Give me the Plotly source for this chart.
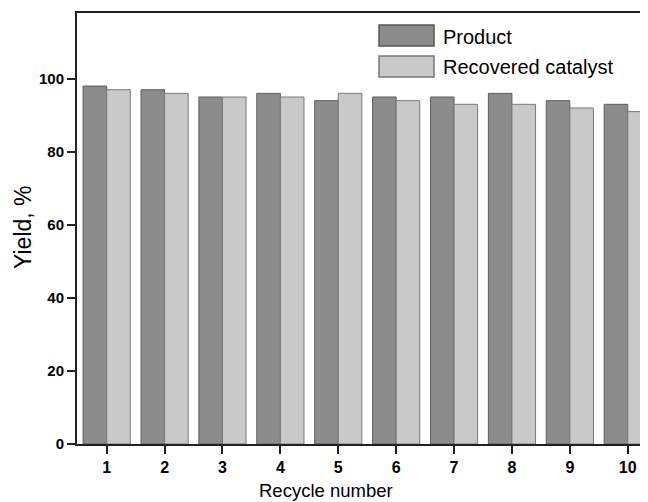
import plotly.graph_objects as go

recycle = [1, 2, 3, 4, 5, 6, 7, 8, 9, 10]
product = [98, 97, 95, 96, 94, 95, 95, 96, 94, 93]
recovered = [97, 96, 95, 95, 96, 94, 93, 93, 92, 91]
series_names = ["Product", "Recovered catalyst"]
y_ticks = [0, 20, 40, 60, 80, 100]

OFF = 8  # page body margin
W, H = 640, 494
L, R, T = 77 - OFF, 0, 13 - OFF
B = H - (444 - OFF)
pw, ph = W - L - R, H - T - B

def px_x(px):
    return (px - OFF - L) / pw

def px_y(py):
    return (H - B - (py - OFF)) / ph

FONT = "Liberation Sans, Arial, sans-serif"
c_prod = "#8c8c8c"
c_rec = "#c9c9c9"

fig = go.Figure()
fig.add_trace(go.Bar(x=recycle, y=product, name=series_names[0],
                     marker=dict(color=c_prod, line=dict(color="#5e5e5e", width=1))))
fig.add_trace(go.Bar(x=recycle, y=recovered, name=series_names[1],
                     marker=dict(color=c_rec, line=dict(color="#7a7a7a", width=1))))

fig.update_layout(
    width=W, height=H,
    margin=dict(l=L, r=R, t=T, b=B, pad=0),
    paper_bgcolor="white", plot_bgcolor="white",
    barmode="group", bargap=0.185, bargroupgap=0,
    showlegend=False,
    font=dict(family=FONT, color="black"),
)
fig.update_xaxes(
    range=[0.487, 10.35], tickmode="array", tickvals=recycle,
    ticktext=[f"<b>{v}</b>" for v in recycle],
    ticks="outside", ticklen=8, tickwidth=2, tickcolor="#222",
    showline=True, linecolor="#222", linewidth=2, mirror=True,
    showgrid=False, zeroline=False,
    tickfont=dict(size=16, family=FONT),
)
fig.update_yaxes(
    range=[0, 118], tickmode="array", tickvals=y_ticks,
    ticktext=[f"<b>{v}</b>" for v in y_ticks],
    ticks="outside", ticklen=8, tickwidth=2, tickcolor="#222",
    showline=True, linecolor="#222", linewidth=2,
    showgrid=False, zeroline=False,
    tickfont=dict(size=15, family=FONT),
)

# axis titles
fig.add_annotation(text="Recycle number", xref="paper", yref="paper",
                   x=px_x(326), y=px_y(490), xanchor="center", yanchor="middle",
                   showarrow=False, font=dict(size=18.5, family=FONT))
fig.add_annotation(text="Yield, %", xref="paper", yref="paper",
                   x=px_x(23), y=px_y(227), xanchor="center", yanchor="middle",
                   textangle=-90, showarrow=False, font=dict(size=23, family=FONT))

# legend
boxes = [(25, 46, c_prod, "#555555", 37.5), (56, 77, c_rec, "#777777", 67)]
for (y0, y1, fc, lc, ty), name in zip(boxes, series_names):
    fig.add_shape(type="rect", xref="paper", yref="paper",
                  x0=px_x(379), x1=px_x(434), y0=px_y(y1), y1=px_y(y0),
                  fillcolor=fc, line=dict(color=lc, width=1.5))
    fig.add_annotation(text=name, xref="paper", yref="paper",
                       x=px_x(441), y=px_y(ty), xanchor="left", yanchor="middle",
                       showarrow=False, font=dict(size=20, family=FONT))

fig.write_html("out.html")
